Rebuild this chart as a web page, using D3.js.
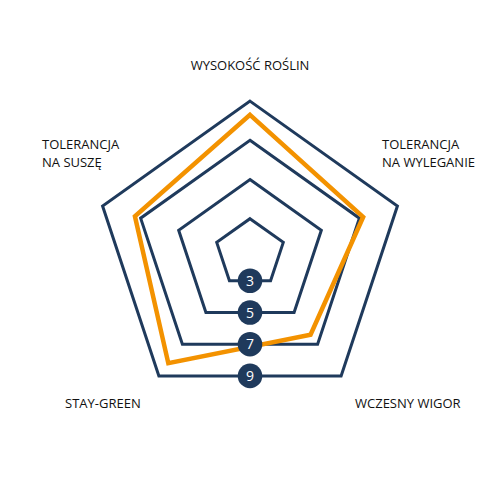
<!DOCTYPE html>
<html><head><meta charset="utf-8">
<script src="https://cdn.jsdelivr.net/npm/d3@7"></script>
<style>body{margin:0;background:#fff}svg{display:block}</style>
</head><body>
<svg id="c" width="500" height="500"></svg>
<script>
const axes = ["WYSOKOŚĆ ROŚLIN", "TOLERANCJA NA WYLEGANIE", "WCZESNY WIGOR", "STAY-GREEN", "TOLERANCJA NA SUSZĘ"];
const values = [8.3, 7.2, 6.4, 8.2, 7.3];
const levels = [3, 5, 7, 9];
const labelLines = [["WYSOKOŚĆ ROŚLIN"], ["TOLERANCJA", "NA WYLEGANIE"], ["WCZESNY WIGOR"], ["STAY-GREEN"], ["TOLERANCJA", "NA SUSZĘ"]];

const W = 500, H = 500, cx = 250, cy = 253, R = 155, ky = 0.98;
const navy = "#1f3a5c", orange = "#f39200";
const svg = d3.select("#c");
const r = d3.scaleLinear().domain([3, 9]).range([35, R]);
const ang = d3.scaleLinear().domain([0, axes.length]).range([0, 2 * Math.PI]);
const pt = (i, rad) => [cx + rad * Math.sin(ang(i)), cy - rad * Math.cos(ang(i)) * ky];
const line = d3.line().curve(d3.curveLinearClosed);

svg.append("g").selectAll("path").data(levels).join("path")
  .attr("d", l => line(axes.map((a, i) => pt(i, r(l)))))
  .attr("fill", "none").attr("stroke", navy).attr("stroke-width", 3).attr("stroke-linejoin", "miter");

svg.append("path")
  .attr("d", line(values.map((v, i) => pt(i, r(v)))))
  .attr("fill", "none").attr("stroke", orange).attr("stroke-width", 4.5).attr("stroke-linejoin", "miter");

const lg = svg.append("g").selectAll("g").data(levels).join("g")
  .attr("transform", l => `translate(${cx},${cy + r(l) * Math.cos(Math.PI / 5) * ky})`);
lg.append("circle").attr("r", 12.3).attr("fill", navy);
lg.append("text").text(d => d).attr("text-anchor", "middle").attr("dy", "0.36em")
  .attr("fill", "#fff").attr("font-family", "'Open Sans', sans-serif").attr("font-size", 14);

const labelPos = [
  {x: 250, y: 70, anchor: "middle"},
  {x: 382, y: 149, anchor: "start"},
  {x: 355, y: 408, anchor: "start"},
  {x: 65, y: 408, anchor: "start"},
  {x: 42, y: 149, anchor: "start"}
];
const tl = svg.append("g").selectAll("text").data(labelLines).join("text")
  .attr("font-family", "'Open Sans', sans-serif").attr("font-size", 13).attr("fill", "#111")
  .attr("text-anchor", (d, i) => labelPos[i].anchor)
  .attr("x", (d, i) => labelPos[i].x).attr("y", (d, i) => labelPos[i].y);
tl.selectAll("tspan").data(d => d).join("tspan")
  .attr("x", function() { return this.parentNode.getAttribute("x"); })
  .attr("dy", (d, j) => j === 0 ? 0 : 17.6).text(d => d);
</script>
</body></html>
